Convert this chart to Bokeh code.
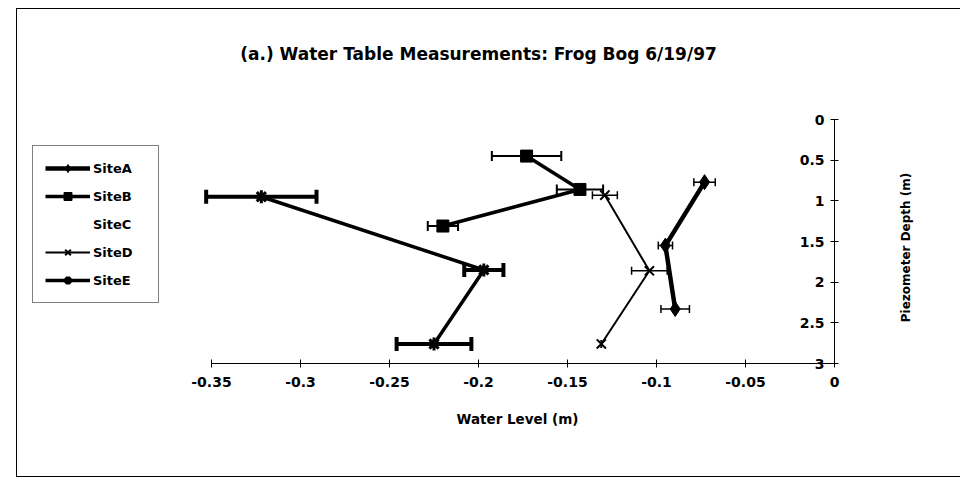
import math
from bokeh.plotting import figure
from bokeh.models import (Range1d, LinearAxis, FixedTicker, Whisker, TeeHead,
                          ColumnDataSource, Legend, LegendItem, Label,
                          CustomJSTickFormatter)
from bokeh.embed import file_html
from bokeh.resources import INLINE

# ---------------- data ----------------
sites = ["SiteA", "SiteB", "SiteC", "SiteD", "SiteE"]

siteA_level = [-0.073, -0.095, -0.0895]
siteA_depth = [0.77, 1.55, 2.33]
siteA_err = [0.006, 0.004, 0.008]

siteB_level = [-0.173, -0.143, -0.220]
siteB_depth = [0.45, 0.86, 1.31]
siteB_err = [0.0195, 0.013, 0.0085]

siteC_level = []
siteC_depth = []
siteC_err = []

siteD_level = [-0.129, -0.104, -0.131]
siteD_depth = [0.93, 1.86, 2.76]
siteD_err = [0.007, 0.010, 0.0]

siteE_level = [-0.322, -0.197, -0.225]
siteE_depth = [0.95, 1.85, 2.76]
siteE_err = [0.031, 0.011, 0.021]

x_ticks = [-0.35, -0.3, -0.25, -0.2, -0.15, -0.1, -0.05, 0]
x_tick_labels = ["-0.35", "-0.3", "-0.25", "-0.2", "-0.15", "-0.1", "-0.05", "0"]
y_ticks = [0, 0.5, 1, 1.5, 2, 2.5, 3]
y_tick_labels = ["0", "0.5", "1", "1.5", "2", "2.5", "3"]

title_text = "(a.) Water Table Measurements: Frog Bog 6/19/97"
x_title = "Water Level (m)"
y_title = "Piezometer Depth (m)"

FONT = "DejaVu Sans"

# ---------------- layout (pixels on the page) ----------------
W, H = 944, 469
ORIG_X, ORIG_Y = 17, 9                 # where the figure's canvas starts on the page
FR_L, FR_R, FR_T, FR_B = 20, ORIG_X + W - 2, 12, ORIG_Y + H - 3
AX_X0, AX_X1 = 211, 834                # pixel positions of x = -0.35 and x = 0
AX_Y0, AX_Y1 = 119, 363                # pixel positions of depth 0 and depth 3
x_min, x_max = x_ticks[0], x_ticks[-1]
y_min, y_max = y_ticks[0], y_ticks[-1]
ppx = (AX_X1 - AX_X0) / (x_max - x_min)
ppy = (AX_Y1 - AX_Y0) / (y_max - y_min)
def xd(px):
    return x_min + (px - AX_X0) / ppx
def yd(py):
    return y_min + (py - AX_Y0) / ppy

p = figure(width=W, height=H, output_backend="svg", toolbar_location=None,
           x_range=Range1d(xd(FR_L), xd(FR_R)), y_range=Range1d(yd(FR_B), yd(FR_T)),
           min_border_left=FR_L - ORIG_X, min_border_right=W - (FR_R - ORIG_X),
           min_border_top=FR_T - ORIG_Y, min_border_bottom=H - (FR_B - ORIG_Y),
           x_axis_location=None, y_axis_location=None)
p.styles = {"margin-left": "16px", "margin-top": "8px",
            "border-left": "1px solid black", "border-top": "1px solid black",
            "border-bottom": "1px solid black"}
p.outline_line_color = None
p.grid.visible = False
p.background_fill_color = "white"
p.border_fill_color = "white"

def style_axis(ax, standoff):
    ax.axis_line_color = "black"
    ax.major_tick_line_color = "black"
    ax.major_tick_in = 4
    ax.major_tick_out = 4
    ax.minor_tick_line_color = None
    ax.major_label_text_font = FONT
    ax.major_label_text_font_size = "14px"
    ax.major_label_text_font_style = "bold"
    ax.major_label_text_color = "black"
    ax.major_label_standoff = standoff

# x axis at depth 3
xa = LinearAxis(ticker=FixedTicker(ticks=x_ticks), fixed_location=y_max, bounds=(x_min, x_max))
xa.formatter = CustomJSTickFormatter(
    args=dict(xt=x_ticks, xl=x_tick_labels),
    code="const i = xt.findIndex(t => Math.abs(t - tick) < 1e-9); return i >= 0 ? xl[i] : '';")
style_axis(xa, 9)
p.add_layout(xa, "below")

# y axis at water level 0, numbers on its left side (as in the reference)
ya = LinearAxis(ticker=FixedTicker(ticks=y_ticks), fixed_location=x_max, bounds=(y_min, y_max))
ya.formatter = CustomJSTickFormatter(
    args=dict(yt=y_ticks, yl=y_tick_labels),
    code="const i = yt.findIndex(t => Math.abs(t - tick) < 1e-9); return i >= 0 ? yl[i] : '';")
style_axis(ya, 6)
p.add_layout(ya, "left")

# ---------------- series ----------------
def site_source(levels, depths, errs):
    return ColumnDataSource(dict(x=levels, y=depths,
                                 lo=[a - e for a, e in zip(levels, errs)],
                                 hi=[a + e for a, e in zip(levels, errs)]))

styles = {
    "SiteA": dict(data=(siteA_level, siteA_depth, siteA_err), lw=4.5, marker="diamond", size=15, mlw=1, elw=1.5, head=8),
    "SiteB": dict(data=(siteB_level, siteB_depth, siteB_err), lw=3.5, marker="square", size=12, mlw=1, elw=2, head=10),
    "SiteC": dict(data=(siteC_level, siteC_depth, siteC_err), lw=0, marker="circle", size=0, mlw=0, elw=0, head=0),
    "SiteD": dict(data=(siteD_level, siteD_depth, siteD_err), lw=2, marker="x", size=13, mlw=2, elw=1.5, head=8),
    "SiteE": dict(data=(siteE_level, siteE_depth, siteE_err), lw=3.5, marker="asterisk", size=13, mlw=3, elw=4, head=14),
}

items = []
for name in sites:
    st = styles[name]
    src = site_source(*st["data"])
    if name == "SiteC":
        r = p.line("x", "y", source=src, line_alpha=0)
        items.append(LegendItem(label=name, renderers=[r]))
        continue
    w = Whisker(source=src, base="y", lower="lo", upper="hi", dimension="width",
                line_color="black", line_width=st["elw"],
                upper_head=TeeHead(size=st["head"], line_width=st["elw"], line_color="black"),
                lower_head=TeeHead(size=st["head"], line_width=st["elw"], line_color="black"))
    p.add_layout(w)
    rl = p.line("x", "y", source=src, line_color="black", line_width=st["lw"])
    rm = p.scatter("x", "y", source=src, marker=st["marker"], size=st["size"],
                   line_color="black", fill_color="black", line_width=st["mlw"])
    items.append(LegendItem(label=name, renderers=[rl, rm]))

LEG_L, LEG_B = 32, 303
legend = Legend(items=items, location=(LEG_L - FR_L, FR_B - LEG_B), padding=12, spacing=8,
                glyph_width=45, glyph_height=20, label_height=20, label_width=53,
                label_standoff=3, margin=0,
                border_line_color="black", border_line_width=1,
                background_fill_color="white", background_fill_alpha=1,
                label_text_font=FONT, label_text_font_size="13px",
                label_text_font_style="bold", label_text_color="black")
p.add_layout(legend, "center")

# ---------------- titles ----------------
p.add_layout(Label(x=xd(478), y=yd(53), text=title_text, text_align="center",
                   text_baseline="middle", text_font=FONT, text_font_size="17px",
                   text_font_style="bold", text_color="black"))
p.add_layout(Label(x=xd(517), y=yd(418), text=x_title, text_align="center",
                   text_baseline="middle", text_font=FONT, text_font_size="13.5px",
                   text_font_style="bold", text_color="black"))
p.add_layout(Label(x=xd(905), y=yd(247), text=y_title, angle=math.pi / 2,
                   text_align="center", text_baseline="middle", text_font=FONT,
                   text_font_size="12px", text_font_style="bold", text_color="black"))

open("out.html", "w").write(file_html(p, INLINE))
